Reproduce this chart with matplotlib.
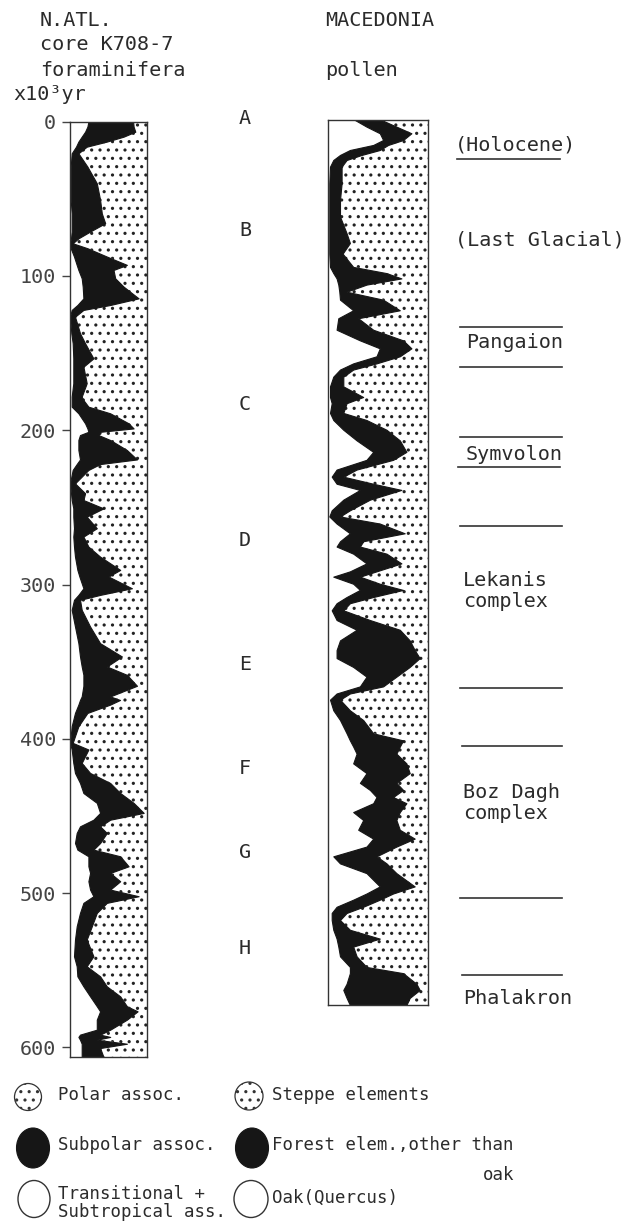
import matplotlib
matplotlib.use("Agg")
import matplotlib.pyplot as plt
from matplotlib.patches import ConnectionPatch, Ellipse
from matplotlib.lines import Line2D

plt.rcParams['font.family'] = ['DejaVu Sans Mono']
plt.rcParams['hatch.color'] = '#222222'
plt.rcParams['hatch.linewidth'] = 1.1

# ---------------- N. Atlantic core K708-7 (age in 10^3 yr, % boundaries) ----------------
atl_age = [0.0, 3.2, 6.5, 9.7, 12.9, 16.2, 20.5, 29.1, 39.9, 50.7, 59.4, 65.8, 71.2, 75.6, 78.8,
           82.0, 87.4, 92.8, 96.1, 101.5, 106.9, 114.5, 118.8, 122.0, 126.4, 137.1, 143.6, 153.4,
           158.8, 169.5, 178.2, 180.4, 184.7, 189.0, 195.5, 198.8, 201.0, 203.1, 206.3, 212.8,
           218.9, 221.9, 225.7, 234.4, 240.8, 245.2, 250.6, 256.0, 263.5, 268.9, 275.4, 281.9,
           290.5, 294.8, 302.4, 306.7, 309.9, 316.4, 327.2, 338.0, 346.6, 353.1, 358.5, 365.6,
           372.5, 374.8, 377.8, 383.2, 391.8, 402.6, 406.9, 415.6, 422.1, 428.6, 435.1, 441.5,
           448.0, 452.4, 456.7, 461.0, 467.5, 471.8, 476.1, 482.6, 486.9, 492.3, 497.7, 502.0,
           506.3, 512.8, 521.5, 530.1, 540.9, 547.4, 553.9, 560.4, 566.9, 573.3, 576.6, 582.0,
           588.5, 591.7, 593.2, 595.0, 597.6, 600.4, 606.2]
# boundary transitional+subtropical / subpolar (%)
atl_trans = [23.9, 22.6, 19.6, 15.2, 10.9, 7.8, 2.2, 0.9, 0.9, 0.9, 2.2, 2.2, 2.2, 1.3, 0.0,
             0.9, 5.2, 8.7, 10.9, 15.2, 16.5, 17.4, 9.6, 2.2, 0.0, 1.7, 3.5, 4.3,
             4.3, 4.3, 2.2, 2.2, 2.2, 10.9, 19.6, 22.6, 23.9, 13.0, 10.9, 10.9,
             13.0, 8.7, 3.5, 0.0, 1.3, 2.2, 4.3, 4.3, 5.2, 4.3, 5.2, 6.5,
             9.6, 12.2, 17.4, 10.9, 5.2, 2.2, 6.5, 10.9, 13.0, 15.2, 17.4, 17.4,
             15.2, 13.0, 10.9, 6.5, 2.2, 0.0, 2.2, 4.3, 6.5, 13.0, 17.4, 34.8,
             39.1, 30.4, 13.0, 8.7, 6.5, 9.6, 23.9, 23.9, 26.1, 23.9, 26.1, 30.4,
             17.4, 13.0, 8.7, 6.5, 5.2, 8.7, 9.6, 17.4, 26.1, 34.8, 39.1, 34.8,
             34.8, 13.0, 10.9, 13.0, 15.2, 15.2, 15.2]
# boundary subpolar / polar (%)
atl_polar = [82.0, 82.6, 84.8, 69.6, 47.8, 21.7, 10.9, 22.6, 34.8, 39.1, 41.3, 45.7, 26.1, 10.9, 3.5,
             22.6, 47.8, 73.9, 56.5, 58.7, 69.6, 89.1, 52.2, 17.4, 6.5, 13.0, 19.6, 30.4,
             17.4, 21.7, 15.2, 17.4, 23.9, 52.2, 76.1, 82.6, 39.1, 37.0, 52.2, 73.9,
             87.0, 39.1, 23.9, 6.5, 19.6, 17.4, 43.5, 21.7, 34.8, 17.4, 23.9, 39.1,
             65.2, 50.0, 80.4, 39.1, 13.0, 15.2, 26.1, 39.1, 67.4, 47.8, 73.9, 87.0,
             52.2, 65.0, 52.2, 22.6, 10.9, 3.5, 23.9, 15.2, 26.1, 52.2, 65.2, 82.6,
             95.7, 52.2, 39.1, 47.8, 39.1, 30.4, 65.2, 76.1, 52.2, 65.2, 52.2, 89.1,
             47.8, 34.8, 28.3, 21.7, 30.4, 21.7, 39.1, 47.8, 65.2, 73.9, 87.8, 73.9,
             52.2, 39.1, 52.2, 34.8, 73.9, 39.1, 43.5]

# ---------------- Macedonia pollen core (relative depth 0-100, % boundaries) ----------------
mac_depth = [0.0, 0.75, 1.5, 2.26, 2.82, 3.39, 3.95, 4.52, 5.27, 7.16, 9.04, 10.9, 12.8, 13.9, 15.1,
             16.6, 17.3, 17.9, 18.6, 19.4, 20.3, 21.5, 22.4, 23.7, 24.9, 25.8, 26.7, 27.5, 28.2,
             29.0, 30.1, 31.3, 32.0, 33.1, 33.9, 35.0, 36.2, 37.5, 38.4, 39.5, 40.3, 41.1, 41.8,
             42.9, 44.1, 44.8, 45.6, 46.7, 47.6, 48.2, 49.0, 50.1, 51.0, 51.6, 52.4, 53.1, 53.9,
             54.6, 55.4, 56.5, 57.6, 58.8, 59.9, 60.8, 61.8, 62.9, 64.0, 64.8, 65.5, 66.7, 67.8,
             69.3, 70.1, 70.8, 71.6, 72.7, 73.8, 74.9, 75.7, 76.5, 77.2, 78.2, 79.1, 80.2, 81.2,
             82.1, 83.2, 84.0, 85.1, 86.6, 87.4, 88.1, 88.9, 89.6, 90.4, 91.5, 92.5, 93.4, 94.5,
             95.7, 96.4, 97.6, 98.3, 99.2, 100.0]
# boundary oak / other forest elements (%)
mac_oak = [26.9, 38.5, 51.8, 55.1, 45.2, 21.9, 12.0, 5.3, 2.0, 1.3, 1.3, 1.3, 1.3, 1.3, 1.3,
           2.0, 5.3, 8.6, 10.3, 11.3, 12.0, 25.2, 10.3, 8.6, 31.9, 51.8, 48.5, 25.2, 12.0,
           5.3, 2.0, 2.0, 3.7, 2.0, 5.3, 15.3, 28.6, 45.2, 38.5, 8.6, 3.7, 8.6, 31.9,
           15.3, 3.7, 1.3, 8.6, 21.9, 12.0, 8.6, 25.2, 38.5, 21.9, 5.3, 25.2, 31.9, 18.6,
           8.6, 3.7, 8.6, 28.6, 12.0, 8.6, 8.6, 25.2, 38.5, 31.9, 8.6, 2.0, 5.3, 12.0,
           18.6, 21.9, 25.2, 28.6, 25.2, 38.5, 31.9, 41.9, 48.5, 45.2, 25.2, 35.2, 30.2, 45.2,
           38.5, 5.3, 12.0, 38.5, 51.8, 38.5, 25.2, 8.6, 3.7, 3.7, 5.3, 8.6, 10.3, 12.0,
           21.9, 21.9, 18.6, 15.3, 18.6, 21.9]
# boundary forest elements / steppe elements (%)
mac_steppe = [53.5, 68.4, 83.4, 75.1, 60.1, 51.8, 33.6, 18.6, 13.6, 13.6, 12.0, 12.0, 18.6, 21.9, 14.6,
              25.2, 58.5, 73.4, 38.5, 18.6, 55.1, 71.8, 30.2, 45.2, 75.1, 83.4, 71.8, 48.5, 25.2,
              15.3, 15.3, 35.2, 18.6, 15.3, 38.5, 58.5, 71.8, 78.4, 65.1, 28.6, 15.3, 45.2, 73.4,
              41.9, 21.9, 12.0, 51.8, 76.7, 35.2, 31.9, 58.5, 73.4, 48.5, 31.9, 51.8, 75.1, 45.2,
              21.9, 15.3, 41.9, 71.8, 81.7, 86.7, 91.7, 81.7, 68.4, 55.1, 21.9, 12.0, 21.9, 35.2,
              45.2, 75.1, 71.8, 68.4, 78.4, 81.7, 68.4, 75.1, 65.1, 78.4, 71.8, 68.4, 71.8, 86.7,
              68.4, 48.5, 58.5, 68.4, 86.7, 65.1, 51.8, 35.2, 18.6, 12.0, 21.9, 51.8, 25.2, 28.6,
              38.5, 75.1, 88.4, 91.7, 81.7, 78.4]

# ---------------- correlations (zone boundaries) ----------------
zone_letters = ['A', 'B', 'C', 'D', 'E', 'F', 'G', 'H']
link_age = [7.3, 120, 221, 310, 377, 451, 508, 603]
link_depth = [4.0, 27.9, 43.5, 54.2, 64.1, 74.2, 87.9, 99.8]

age_ticks = [0, 100, 200, 300, 400, 500, 600]

stage_names = ['(Holocene)', '(Last Glacial)', 'Pangaion', 'Symvolon',
               'Lekanis\ncomplex', 'Boz Dagh\ncomplex', 'Phalakron']

legend_left = ['Polar assoc.', 'Subpolar assoc.', 'Transitional +\nSubtropical ass.']
legend_right = ['Steppe elements', 'Forest elem.,other than', 'Oak(Quercus)']

# ======================================================================
W, H = 630, 1231
fig = plt.figure(figsize=(W / 100, H / 100), dpi=100)
fig.patch.set_facecolor('white')
TXT = '#2b2b2b'
FS = 14.5
FSL = 12.5

# overlay axes in pixel coordinates for annotations
ov = fig.add_axes([0, 0, 1, 1])
ov.set_xlim(0, W)
ov.set_ylim(H, 0)
ov.axis('off')

def fx(px):
    return px / W

def fy(py):
    return 1 - py / H

# left core axes
L0, L1, T1, B1 = 70, 147, 121.7, 1057
ax1 = fig.add_axes([fx(L0), fy(B1), (L1 - L0) / W, (B1 - T1) / H])
ax1.set_xlim(0, 100)
ax1.set_ylim(606.2, 0)
# right core axes
L2, R2, T2, B2 = 328, 428, 120, 1005
ax2 = fig.add_axes([fx(L2), fy(B2), (R2 - L2) / W, (B2 - T2) / H])
ax2.set_xlim(0, 100)
ax2.set_ylim(100, 0)

BLACK = '#161616'
for ax, y, a, b in [(ax1, atl_age, atl_trans, atl_polar), (ax2, mac_depth, mac_oak, mac_steppe)]:
    ax.set_facecolor('white')
    ax.fill_betweenx(y, b, 100, facecolor='white', hatch='..', edgecolor='#222222', linewidth=0)
    ax.fill_betweenx(y, a, b, facecolor=BLACK, edgecolor=BLACK, linewidth=0.8)
    for s in ax.spines.values():
        s.set_linewidth(1.0)
        s.set_color('#333333')
    ax.set_xticks([])

ax1.set_yticks(age_ticks)
ax1.set_yticklabels([str(t) for t in age_ticks], fontsize=FS, color='#444444')
ax1.tick_params(axis='y', length=6, width=1, pad=4, color='#444444')
ax2.set_yticks([])

# dashed correlation lines
for ka, db in zip(link_age, link_depth):
    con = ConnectionPatch(xyA=(101.5, ka), coordsA='data', axesA=ax1,
                          xyB=(-1, db), coordsB='data', axesB=ax2,
                          linestyle=(0, (7, 5)), linewidth=0.9, color='#444444')
    fig.add_artist(con)

# zone letters
zone_y = [118, 230, 405, 540, 665, 768, 852, 948]
for lt, zy in zip(zone_letters, zone_y):
    ov.text(245, zy, lt, fontsize=FS, color=TXT, ha='center', va='center')

# headers
ov.text(40, 20, 'N.ATL.', fontsize=FS, color=TXT, va='center')
ov.text(40, 45, 'core K708-7', fontsize=FS, color=TXT, va='center')
ov.text(40, 70, 'foraminifera', fontsize=FS, color=TXT, va='center')
ov.text(13, 94, 'x10³yr', fontsize=FS, color=TXT, va='center')
ov.text(325, 20, 'MACEDONIA', fontsize=FS, color=TXT, va='center')
ov.text(325, 70, 'pollen', fontsize=FS, color=TXT, va='center')

# stage labels on the right
stage_pos = [(455, 145), (455, 240), (466, 343), (466, 454), (463, 591), (463, 803), (463, 998)]
for name, (sx, sy) in zip(stage_names, stage_pos):
    ov.text(sx, sy, name, fontsize=FS, color=TXT, va='center', linespacing=1.15)
stage_lines = [(457, 560, 159), (460, 562, 327), (460, 562, 367), (460, 562, 437),
               (458, 560, 467), (460, 562, 526), (460, 562, 688), (462, 562, 746),
               (460, 562, 898), (462, 562, 975)]
for x0, x1, yy in stage_lines:
    ov.add_line(Line2D([x0, x1], [yy, yy], color='#333333', linewidth=1.2))

# legend
def dotted(cx, cy, w, h):
    ov.add_patch(Ellipse((cx, cy), w, h, facecolor='white', edgecolor='#333333',
                         hatch='..', linewidth=0.9))

def black(cx, cy, w, h):
    ov.add_patch(Ellipse((cx, cy), w, h, facecolor=BLACK, edgecolor=BLACK, linewidth=0.8))

def white(cx, cy, w, h):
    ov.add_patch(Ellipse((cx, cy), w, h, facecolor='white', edgecolor='#333333', linewidth=1.0))

dotted(28, 1097, 27, 27)
black(33, 1148, 33, 40)
white(34, 1199, 32, 37)
dotted(249, 1096, 28, 28)
black(252, 1148, 33, 40)
white(251, 1199, 34, 37)

ov.text(58, 1095, legend_left[0], fontsize=FSL, color=TXT, va='center')
ov.text(58, 1145, legend_left[1], fontsize=FSL, color=TXT, va='center')
ov.text(58, 1203, legend_left[2], fontsize=FSL, color=TXT, va='center', linespacing=1.05)
ov.text(272, 1095, legend_right[0], fontsize=FSL, color=TXT, va='center')
ov.text(272, 1145, legend_right[1], fontsize=FSL, color=TXT, va='center')
ov.text(514, 1175, 'oak', fontsize=FSL, color=TXT, va='center', ha='right')
ov.text(272, 1198, legend_right[2], fontsize=FSL, color=TXT, va='center')

fig.savefig('out.png', dpi=100, facecolor='white')
